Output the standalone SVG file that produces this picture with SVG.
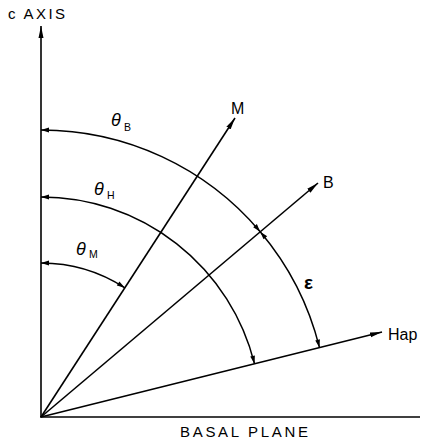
<svg xmlns="http://www.w3.org/2000/svg" width="432" height="445" viewBox="0 0 432 445">
<style>
.ln{stroke:#000;stroke-width:1.6;fill:none}
.arc{stroke:#000;stroke-width:1.5;fill:none}
.t{font-family:"Liberation Sans",Arial,sans-serif;fill:#000}
.th{font-family:"Liberation Sans",Arial,sans-serif;font-style:italic;font-size:18px;fill:#000}
.sub{font-family:"Liberation Sans",Arial,sans-serif;font-size:10.5px;fill:#000}
</style>
<defs>
<marker id="big" markerUnits="userSpaceOnUse" markerWidth="14" markerHeight="8" refX="12" refY="3" orient="auto">
<path d="M0,0.5 L12,3 L0,5.5 Z" fill="#000"/>
</marker>
<marker id="sm" markerUnits="userSpaceOnUse" markerWidth="12" markerHeight="8" refX="10" refY="3" orient="auto-start-reverse">
<path d="M2,0.6 L10,3 L2,5.4 Z" fill="#000"/>
</marker>
</defs>
<rect width="432" height="445" fill="#fff"/>
<g id="connectors">
<line id="c-axis" class="ln" x1="41" y1="417" x2="41" y2="26" marker-end="url(#big)"/>
<line id="basal" class="ln" x1="40" y1="417" x2="420" y2="417"/>
<line id="m-line" class="ln" x1="41" y1="417" x2="235" y2="118" marker-end="url(#big)"/>
<line id="b-line" class="ln" x1="41" y1="417" x2="318" y2="183" marker-end="url(#big)"/>
<line id="hap-line" class="ln" x1="41" y1="417" x2="382" y2="332" marker-end="url(#big)"/>
<path id="arc-thetaB" class="arc" d="M41,130 A287,287 0 0 1 260.2,231.7" marker-start="url(#sm)" marker-end="url(#sm)"/>
<path id="arc-eps" class="arc" d="M260.2,231.7 A287,287 0 0 1 319.5,347.6" marker-start="url(#sm)" marker-end="url(#sm)"/>
<path id="arc-thetaH" class="arc" d="M41,197 A220,220 0 0 1 254.5,363.8" marker-start="url(#sm)" marker-end="url(#sm)"/>
<path id="arc-thetaM" class="arc" d="M41,263 A154,154 0 0 1 124.8,287.8" marker-start="url(#sm)" marker-end="url(#sm)"/>
</g>
<g id="label-caxis"><text class="t" x="8" y="19" font-size="15" textLength="57" lengthAdjust="spacing">c AXIS</text></g>
<g id="label-basal"><text class="t" x="180" y="437" font-size="15" textLength="128" lengthAdjust="spacing">BASAL PLANE</text></g>
<g id="node-M"><text class="t" x="231" y="114" font-size="16">M</text></g>
<g id="node-B"><text class="t" x="323" y="188" font-size="16">B</text></g>
<g id="node-Hap"><text class="t" x="388" y="340" font-size="16">Hap</text></g>
<g id="label-thetaB"><text class="th" x="111" y="126">θ</text><text class="sub" x="124" y="131">B</text></g>
<g id="label-thetaH"><text class="th" x="94" y="195">θ</text><text class="sub" x="107" y="199">H</text></g>
<g id="label-thetaM"><text class="th" x="76" y="255">θ</text><text class="sub" x="89" y="258">M</text></g>
<g id="label-eps"><text class="t" x="304" y="289" font-size="19" font-weight="bold">ε</text></g>
</svg>
